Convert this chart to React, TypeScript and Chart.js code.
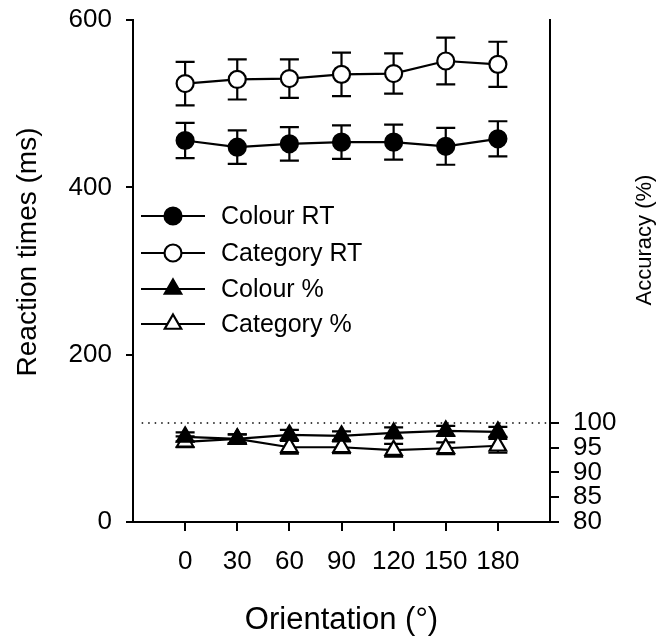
import React, { useEffect, useRef } from 'react';
import { Chart, registerables } from 'chart.js';

Chart.register(...registerables);

// ---- data ----
const orientations = [0, 30, 60, 90, 120, 150, 180];
const colourRT = [456, 448, 452, 454, 454, 449, 458];
const colourRTErr = [21, 20, 20, 20, 21, 22, 21];
const categoryRT = [524, 529, 530, 535, 536, 551, 547];
const categoryRTErr = [26, 24, 23, 26, 24, 28, 27];
const colourAcc = [97.2, 96.8, 97.6, 97.4, 98.0, 98.4, 98.2];
const colourAccErr = [0.9, 0.9, 1.0, 0.9, 1.1, 1.0, 1.0];
const categoryAcc = [96.2, 96.8, 95.1, 95.1, 94.5, 94.9, 95.4];
const categoryAccErr = [1.1, 0.9, 1.3, 1.2, 1.3, 1.2, 1.4];
const rtTicks = [0, 200, 400, 600];
const accTicks = [80, 85, 90, 95, 100];
const accReference = 100;
const seriesLabels = ['Colour RT', 'Category RT', 'Colour %', 'Category %'];

const FAMILY = "'Liberation Sans', Arial, sans-serif";

function markerPath(ctx: CanvasRenderingContext2D, style: string, x: number, y: number, r: number) {
  ctx.beginPath();
  if (style === 'triangle') {
    const h = Math.PI * 2 / 3;
    ctx.moveTo(x, y - r);
    ctx.lineTo(x + Math.sin(h) * r, y - Math.cos(h) * r);
    ctx.lineTo(x + Math.sin(2 * h) * r, y - Math.cos(2 * h) * r);
    ctx.closePath();
  } else {
    ctx.arc(x, y, r, 0, Math.PI * 2);
  }
}

const errorBarPlugin = {
  id: 'errorBars',
  beforeDatasetsDraw(chart: any) {
    const ctx = chart.ctx;
    chart.data.datasets.forEach((ds: any, i: number) => {
      if (!ds.errors) return;
      const meta = chart.getDatasetMeta(i);
      const scale = chart.scales[ds.yAxisID];
      ctx.save();
      ctx.strokeStyle = '#000';
      ctx.lineWidth = 2.2;
      meta.data.forEach((pt: any, j: number) => {
        const v = ds.data[j].y;
        const e = ds.errors[j];
        const yTop = scale.getPixelForValue(v + e);
        const yBot = scale.getPixelForValue(v - e);
        const x = pt.x;
        const cap = 9.5;
        ctx.beginPath();
        ctx.moveTo(x, yTop); ctx.lineTo(x, yBot);
        ctx.moveTo(x - cap, yTop); ctx.lineTo(x + cap, yTop);
        ctx.moveTo(x - cap, yBot); ctx.lineTo(x + cap, yBot);
        ctx.stroke();
      });
      ctx.restore();
    });
  },
};

const decorPlugin = {
  id: 'decor',
  afterDraw(chart: any) {
    const ctx = chart.ctx;
    ctx.save();
    // legend
    const rows = [216, 253, 289, 324];
    chart.data.datasets.slice(0, 4).forEach((ds: any, i: number) => {
      const y = rows[i];
      ctx.strokeStyle = '#000';
      ctx.lineWidth = 2.2;
      ctx.beginPath();
      ctx.moveTo(141, y); ctx.lineTo(205, y);
      ctx.stroke();
      markerPath(ctx, ds.pointStyle, 173, y, ds.pointRadius);
      ctx.fillStyle = ds.pointBackgroundColor;
      ctx.fill();
      ctx.lineWidth = ds.pointBorderWidth;
      ctx.stroke();
      ctx.fillStyle = '#000';
      ctx.font = `25px ${FAMILY}`;
      ctx.textAlign = 'left';
      ctx.textBaseline = 'middle';
      ctx.fillText(seriesLabels[i], 221, y + 1);
    });
    // axis titles
    ctx.fillStyle = '#000';
    ctx.textAlign = 'center';
    ctx.textBaseline = 'middle';
    ctx.save();
    ctx.translate(28, 252);
    ctx.rotate(-Math.PI / 2);
    ctx.font = `28px ${FAMILY}`;
    ctx.fillText('Reaction times (ms)', 0, 0);
    ctx.restore();
    ctx.save();
    ctx.translate(645, 240);
    ctx.rotate(-Math.PI / 2);
    ctx.font = `22px ${FAMILY}`;
    ctx.fillText('Accuracy (%)', 0, 0);
    ctx.restore();
    ctx.restore();
  },
};

export default function App() {
  const ref = useRef<HTMLCanvasElement>(null);
  useEffect(() => {
    document.body.style.margin = '0';
    const canvas = ref.current!;
    const pts = (ys: number[]) => orientations.map((x, i) => ({ x, y: ys[i] }));
    const common = {
      borderColor: '#000',
      borderWidth: 2.2,
      pointBorderColor: '#000',
      pointBorderWidth: 2.2,
      pointHoverRadius: 8,
      tension: 0,
    };
    const fixVertical = (w: number) => (s: any) => { s.width = w; s.paddingTop = 0; s.paddingBottom = 0; };
    const chart = new Chart(canvas, {
      type: 'line',
      data: {
        datasets: [
          { ...common, label: seriesLabels[0], data: pts(colourRT), yAxisID: 'y', pointStyle: 'circle', pointRadius: 8.5, pointBackgroundColor: '#000', errors: colourRTErr } as any,
          { ...common, label: seriesLabels[1], data: pts(categoryRT), yAxisID: 'y', pointStyle: 'circle', pointRadius: 8.5, pointBackgroundColor: '#fff', errors: categoryRTErr } as any,
          { ...common, label: seriesLabels[2], data: pts(colourAcc), yAxisID: 'y1', pointStyle: 'triangle', pointRadius: 9.5, pointBackgroundColor: '#000', errors: colourAccErr } as any,
          { ...common, label: seriesLabels[3], data: pts(categoryAcc), yAxisID: 'y1', pointStyle: 'triangle', pointRadius: 9.5, pointBackgroundColor: '#fff', errors: categoryAccErr } as any,
          {
            label: 'reference', data: [{ x: -25, y: accReference }, { x: 210, y: accReference }], yAxisID: 'y1',
            borderColor: '#000', borderWidth: 1.5, borderDash: [1.5, 5], pointRadius: 0,
          } as any,
        ],
      },
      plugins: [errorBarPlugin, decorPlugin],
      options: {
        responsive: false,
        animation: false,
        devicePixelRatio: 1,
        layout: { padding: { top: 20, left: 0, right: 0, bottom: 0 } },
        plugins: { legend: { display: false }, tooltip: { enabled: false } },
        scales: {
          x: {
            type: 'linear', min: -30, max: 210,
            afterBuildTicks: (s: any) => { s.ticks = orientations.map((v) => ({ value: v })); },
            afterFit: (s: any) => { s.height = 117; s.paddingLeft = 0; s.paddingRight = 0; },
            grid: { display: true, drawOnChartArea: false, drawTicks: true, tickLength: 9, color: '#000', lineWidth: 2 },
            border: { display: true, color: '#000', width: 2 },
            ticks: { color: '#000', font: { size: 26, family: FAMILY }, padding: 15, maxRotation: 0, autoSkip: false },
            title: { display: true, text: 'Orientation (°)', color: '#000', font: { size: 31, family: FAMILY }, padding: { top: 0, bottom: 0 } },
          },
          y: {
            position: 'left', min: 0, max: 600,
            afterBuildTicks: (s: any) => { s.ticks = rtTicks.map((v) => ({ value: v })); },
            afterFit: fixVertical(133),
            grid: { display: true, drawOnChartArea: false, drawTicks: true, tickLength: 7, color: '#000', lineWidth: 2 },
            border: { display: true, color: '#000', width: 2 },
            ticks: { color: '#000', font: { size: 26, family: FAMILY }, padding: 14 },
          },
          y1: {
            position: 'right', min: 80, max: 181.4,
            afterBuildTicks: (s: any) => { s.ticks = accTicks.map((v) => ({ value: v })); },
            afterFit: fixVertical(121),
            grid: { display: true, drawOnChartArea: false, drawTicks: true, tickLength: 9, color: '#000', lineWidth: 2 },
            border: { display: true, color: '#000', width: 2 },
            ticks: { color: '#000', font: { size: 26, family: FAMILY }, padding: 14 },
          },
        },
      } as any,
    });
    return () => chart.destroy();
  }, []);
  return (
    <div style={{ position: 'absolute', left: 0, top: 0, width: 671, height: 639 }}>
      <canvas ref={ref} width={671} height={639} style={{ width: 671, height: 639, display: 'block' }} />
    </div>
  );
}
